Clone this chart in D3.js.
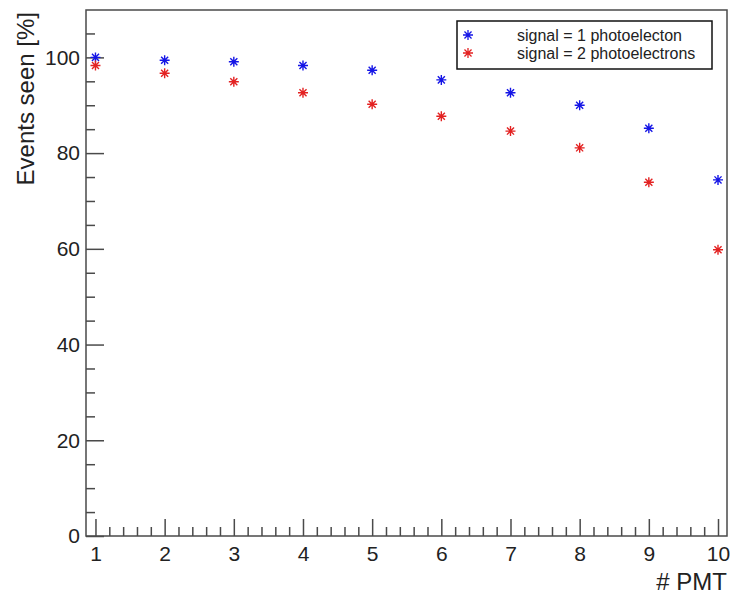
<!DOCTYPE html>
<html>
<head>
<meta charset="utf-8">
<script src="https://cdn.jsdelivr.net/npm/d3@7"></script>
<style>
  body { margin: 0; background: #fff; }
  text { font-family: "Liberation Sans", Arial, Helvetica, sans-serif; }
</style>
</head>
<body>
<div id="wrapper"></div>
<script>
// # Data
const pmt = [1, 2, 3, 4, 5, 6, 7, 8, 9, 10];
const onePhotoelectron = [100, 99.4, 99.1, 98.3, 97.3, 95.3, 92.6, 90.0, 85.2, 74.4];
const twoPhotoelectrons = [98.3, 96.7, 94.9, 92.6, 90.2, 87.7, 84.6, 81.1, 73.9, 59.8];
const xMajorTicks = [1, 2, 3, 4, 5, 6, 7, 8, 9, 10];
const yMajorTicks = [0, 20, 40, 60, 80, 100];
const seriesNames = ["signal = 1 photoelecton", "signal = 2 photoelectrons"];

// # Dimensions
const dimensions = {
  width: 730,
  height: 595,
  margin: { top: 10, right: 3, bottom: 59, left: 86 },
};
dimensions.boundedWidth = dimensions.width - dimensions.margin.left - dimensions.margin.right;
dimensions.boundedHeight = dimensions.height - dimensions.margin.top - dimensions.margin.bottom;

const axisColor = "#4a4a4a";
const colors = ["#1515e6", "#e32222"];

// # Canvas
const wrapper = d3.select("#wrapper")
  .append("svg")
  .attr("width", dimensions.width)
  .attr("height", dimensions.height);

const bounds = wrapper.append("g")
  .attr("transform", `translate(${dimensions.margin.left},${dimensions.margin.top})`);

// # Scales
const xScale = d3.scaleLinear()
  .domain([0.863, 10.13])
  .range([0, dimensions.boundedWidth]);

const yScale = d3.scaleLinear()
  .domain([0, 109.9])
  .range([dimensions.boundedHeight, 0]);

// minor ticks: x every 0.2, y every 5
const xMinor = d3.range(0, 55).map(i => Math.round(i * 2) / 10).filter(v => v >= xScale.domain()[0] && v <= xScale.domain()[1] && Math.abs(v - Math.round(v)) > 1e-6);
const yMinor = d3.range(0, 110, 5).filter(v => v % 20 !== 0);

// # Frame
bounds.append("rect")
  .attr("width", dimensions.boundedWidth)
  .attr("height", dimensions.boundedHeight)
  .attr("fill", "none")
  .attr("stroke", axisColor)
  .attr("stroke-width", 1.5);

// # Axes
const styleAxis = g => {
  g.select(".domain").remove();
  g.selectAll("line").attr("stroke", axisColor).attr("stroke-width", 1.5);
  g.selectAll("text").attr("fill", "#222").style("font-size", "21px");
};

bounds.append("g")
  .attr("transform", `translate(0,${dimensions.boundedHeight})`)
  .call(d3.axisBottom(xScale).tickValues(xMinor).tickSize(-9).tickFormat(""))
  .call(styleAxis);

bounds.append("g")
  .attr("transform", `translate(0,${dimensions.boundedHeight})`)
  .call(d3.axisBottom(xScale).tickValues(xMajorTicks).tickSize(-17).tickPadding(10).tickFormat(d3.format("d")))
  .call(styleAxis);

bounds.append("g")
  .call(d3.axisLeft(yScale).tickValues(yMinor).tickSize(-9).tickFormat(""))
  .call(styleAxis);

bounds.append("g")
  .call(d3.axisLeft(yScale).tickValues(yMajorTicks).tickSize(-18).tickPadding(6).tickFormat(d3.format("d")))
  .call(styleAxis);

// # Axis titles
wrapper.append("text")
  .attr("x", 727)
  .attr("y", 590)
  .attr("text-anchor", "end")
  .attr("fill", "#222")
  .style("font-size", "24px")
  .text("# PMT");

wrapper.append("text")
  .attr("transform", "translate(34,12) rotate(-90)")
  .attr("text-anchor", "end")
  .attr("fill", "#222")
  .style("font-size", "24px")
  .text("Events seen [%]");

// # Markers (asterisk: + and x)
const drawStar = (sel, r) => {
  const a = r * Math.SQRT1_2;
  sel.append("path")
    .attr("d", `M${-r},0H${r}M0,${-r}V${r}M${-a},${-a}L${a},${a}M${-a},${a}L${a},${-a}`);
};

const series = [onePhotoelectron, twoPhotoelectrons];

series.forEach((values, i) => {
  const g = bounds.append("g")
    .attr("stroke", colors[i])
    .attr("stroke-width", 1.4)
    .attr("fill", "none");
  g.selectAll("g")
    .data(pmt.map((x, j) => ({ x, y: values[j] })))
    .join("g")
    .attr("transform", d => `translate(${xScale(d.x)},${yScale(d.y)})`)
    .each(function () { drawStar(d3.select(this), 5); });
});

// # Legend
const legend = wrapper.append("g");
legend.append("rect")
  .attr("x", 457)
  .attr("y", 21)
  .attr("width", 255)
  .attr("height", 48)
  .attr("fill", "#fff")
  .attr("stroke", "#111")
  .attr("stroke-width", 1.5);

seriesNames.forEach((name, i) => {
  const row = legend.append("g")
    .attr("transform", `translate(0,${35 + i * 18})`);
  const m = row.append("g")
    .attr("transform", "translate(468,0)")
    .attr("stroke", colors[i])
    .attr("stroke-width", 1.3)
    .attr("fill", "none");
  drawStar(m, 5);
  row.append("text")
    .attr("x", 517)
    .attr("y", 0)
    .attr("dy", "0.35em")
    .attr("fill", "#222")
    .style("font-size", "16px")
    .text(name);
});
</script>
</body>
</html>
